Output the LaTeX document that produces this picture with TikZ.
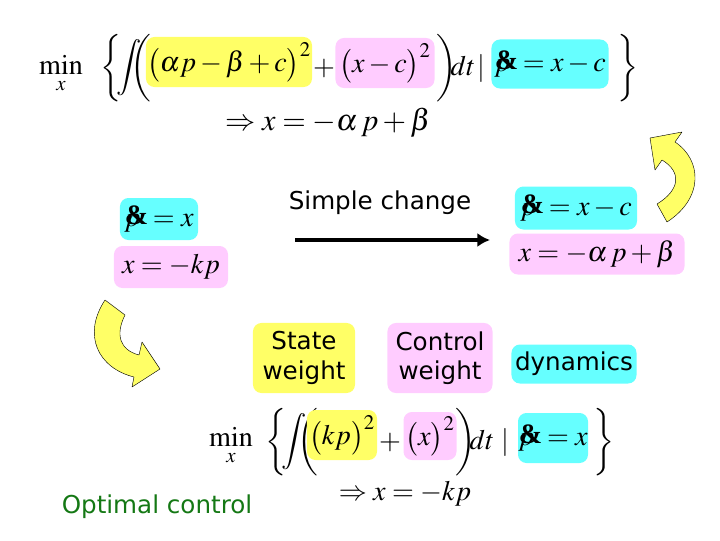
\documentclass[tikz,border=0pt]{standalone}
\usepackage{mathptmx}
\usepackage{fontspec}
\setmainfont{Liberation Serif}
\newfontfamily\comic{DejaVu Sans}
\usepackage{tikz}
\usetikzlibrary{arrows.meta}
\definecolor{hiyellow}{RGB}{255,255,102}
\definecolor{hipink}{RGB}{255,204,255}
\definecolor{hicyan}{RGB}{102,255,255}
\definecolor{optgreen}{RGB}{20,120,20}
\newcommand{\pamp}{p\mkern-10mu\raisebox{.12ex}{\textbf{\&}}\mkern-1mu}
\newcommand{\tallL}[3]{\left#1\vrule height #2 depth #3 width 0pt\right.}
\newcommand{\tallR}[3]{\left.\vrule height #2 depth #3 width 0pt\right#1}

\begin{document}
\begin{tikzpicture}[x=0.025cm,y=-0.025cm]
\tikzstyle{eq}=[inner sep=0pt,font=\fontsize{20}{24}\selectfont]
\tikzstyle{piece}=[eq,anchor=base]
\tikzstyle{box}=[eq,rectangle,rounded corners=6pt,align=center]
\tikzstyle{label}=[inner sep=0pt,align=center,font=\comic\fontsize{17.5}{21}\selectfont]
\tikzstyle{turnarrow}=[fill=hiyellow,draw=black,line width=0.3pt,line join=round]
\useasboundingbox (0,0) rectangle (720,540);

% top problem
\node[piece] at(61, 74) (min1) {$\displaystyle\min_x$};
\node[piece] at(112, 75) (lb1) {$\tallL\{{28pt}{18pt}$};
\node[piece] at(129, 75) (int1) {$\displaystyle\int$};
\node[piece] at(142, 75) (lp1) {$\tallL({28pt}{18pt}$};
\node[box,fill=hiyellow,minimum width=4.15cm,minimum height=1.25cm] at(229, 62) (sw1) {$\bigl(\alpha p-\beta+c\bigr)^2$};
\node[piece] at(324, 75) (pl1) {$+$};
\node[box,fill=hipink,minimum width=2.475cm,minimum height=1.25cm] at(385, 63) (cw1) {$\bigl(x-c\bigr)^2$};
\node[piece] at(446, 75) (rp1) {$\tallR){28pt}{18pt}$};
\node[piece] at(463, 75) (dt1) {$dt$};
\node[piece] at(481, 75) (bar1) {$|$};
\node[box,fill=hicyan,minimum width=2.925cm,minimum height=1.225cm] at(550, 64) (dy1) {$\pamp= x-c$};
\node[piece] at(627, 75) (rb1) {$\tallR\}{28pt}{18pt}$};
\node[piece] at(328, 130) (res1) {\fontsize{21.5}{24}\selectfont$\Rightarrow x=-\alpha\, p+\beta$};

% middle
\node[box,fill=hicyan,minimum width=1.95cm,minimum height=1.05cm] at(159, 219) (dy2) {$\pamp= x$};
\node[box,fill=hipink,minimum width=2.85cm,minimum height=1.05cm] at(171, 267) (law2) {$x=-kp$};
\node[box,fill=hicyan,minimum width=3.05cm,minimum height=1.075cm] at(576, 208) (dy3) {$\pamp= x-c$};
\node[box,fill=hipink,minimum width=4.375cm,minimum height=1.025cm] at(597, 254) (law3) {$x=-\alpha\, p+\beta$};
\node[label] at(380, 203) (chg) {Simple change};
\coordinate (chg0) at(295, 240);
\coordinate (chg1) at(490, 240);
\draw[line width=3.5pt,-{Latex[length=9pt,width=10pt]}] (chg0) -- (chg1);

% curved arrows
\draw[turnarrow] (105,300) -- (125,315) .. controls (115,335) and (120,350) .. (139,355)
  -- (142,342) -- (160,369) -- (132,387) -- (134,377)
  .. controls (98,368) and (82,335) .. (105,300) -- cycle;
\draw[turnarrow] (650,138) -- (682,132) -- (675,142) .. controls (702,160) and (704,198) .. (667,222)
  -- (657,204) .. controls (680,190) and (682,172) .. (662,160) -- (655,170) -- cycle;

% weights
\node[label,fill=hiyellow,rounded corners=6pt,minimum width=2.55cm,minimum height=1.75cm] at(304, 358) (stw) {State\\weight};
\node[label,fill=hipink,rounded corners=6pt,minimum width=2.625cm,minimum height=1.75cm] at(440, 358) (ctw) {Control\\weight};
\node[label,fill=hicyan,rounded corners=6pt,minimum width=3.125cm,minimum height=0.975cm] at(574, 364) (dyn) {dynamics};

% bottom problem
\node[piece] at(231, 446) (min2) {$\displaystyle\min_x$};
\node[piece] at(277, 449) (lb2) {$\tallL\{{25pt}{16pt}$};
\node[piece] at(294, 449) (int2) {$\displaystyle\int$};
\node[piece] at(309, 449) (lp2) {$\tallL({25pt}{16pt}$};
\node[box,fill=hiyellow,minimum width=1.75cm,minimum height=1.25cm] at(342, 435) (sw2) {$\bigl(kp\bigr)^2$};
\node[piece] at(390, 449) (pl2) {$+$};
\node[box,fill=hipink,minimum width=1.325cm,minimum height=1.2cm] at(430, 436) (cw2) {$\bigl(x\bigr)^2$};
\node[piece] at(465, 449) (rp2) {$\tallR){25pt}{16pt}$};
\node[piece] at(482, 449) (dt2) {$dt$};
\node[piece] at(505, 449) (bar2) {$|$};
\node[box,fill=hicyan,minimum width=1.75cm,minimum height=1.25cm] at(553, 438) (dy4) {$\pamp= x$};
\node[piece] at(603, 449) (rb2) {$\tallR\}{25pt}{16pt}$};
\node[piece] at(405, 500) (res2) {$\Rightarrow x=-kp$};

\node[label,text=optgreen] at(157, 507) (opt) {Optimal control};
\end{tikzpicture}
\end{document}
